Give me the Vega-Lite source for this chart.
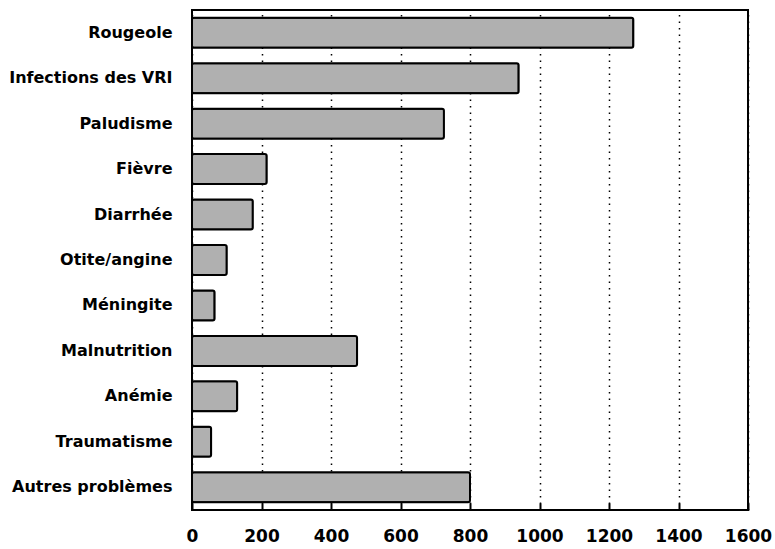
{
  "$schema": "https://vega.github.io/schema/vega-lite/v6.json",
  "autosize": "none",
  "width": 556,
  "height": 500,
  "padding": {"left": 192, "top": 10, "right": 27, "bottom": 39},
  "background": "white",
  "config": {
    "view": {"stroke": "black", "strokeWidth": 2},
    "font": "DejaVu Sans"
  },
  "data": {
    "values": [
      {"cause": "Rougeole", "cas": 1270},
      {"cause": "Infections des VRI", "cas": 940},
      {"cause": "Paludisme", "cas": 725},
      {"cause": "Fièvre", "cas": 215},
      {"cause": "Diarrhée", "cas": 175},
      {"cause": "Otite/angine", "cas": 100},
      {"cause": "Méningite", "cas": 65},
      {"cause": "Malnutrition", "cas": 475},
      {"cause": "Anémie", "cas": 130},
      {"cause": "Traumatisme", "cas": 55},
      {"cause": "Autres problèmes", "cas": 800}
    ]
  },
  "mark": {"type": "bar", "fill": "#b0b0b0", "stroke": "black", "strokeWidth": 2, "cornerRadius": 2},
  "encoding": {
    "y": {
      "field": "cause",
      "type": "nominal",
      "sort": null,
      "title": null,
      "scale": {"paddingInner": 0.34, "paddingOuter": 0.17},
      "axis": {
        "domain": false,
        "ticks": false,
        "labelPadding": 20,
        "labelFontSize": 16,
        "labelFontWeight": "bold",
        "labelColor": "black",
        "labelFont": "DejaVu Sans"
      }
    },
    "x": {
      "field": "cas",
      "type": "quantitative",
      "title": null,
      "scale": {"domain": [0, 1600], "nice": false},
      "axis": {
        "values": [0, 200, 400, 600, 800, 1000, 1200, 1400, 1600],
        "format": "d",
        "domain": false,
        "tickSize": -7,
        "tickColor": "black",
        "tickWidth": 2,
        "labelPadding": 25,
        "labelOverlap": false,
        "labelBound": false,
        "labelFlush": false,
        "labelFontSize": 17,
        "labelFontWeight": "bold",
        "labelColor": "black",
        "labelFont": "DejaVu Sans",
        "grid": true,
        "gridColor": "black",
        "gridDash": [1.5, 5],
        "gridWidth": 1.5,
        "gridOpacity": 1
      }
    }
  }
}
